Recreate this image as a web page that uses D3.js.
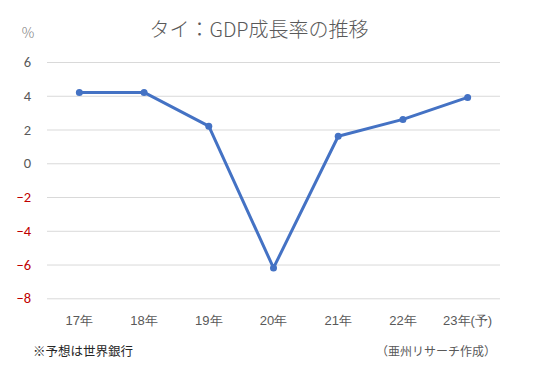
<!DOCTYPE html>
<html><head><meta charset="utf-8">
<script src="https://cdn.jsdelivr.net/npm/d3@7"></script>
<style>body{margin:0;background:#fff;}svg{display:block;font-family:"Noto Sans CJK JP","Noto Sans",sans-serif;}</style>
</head><body><svg id="c" width="544" height="367"></svg>
<script>
const categories = ["17年","18年","19年","20年","21年","22年","23年(予)"];
const growth = [4.2, 4.2, 2.2, -6.2, 1.6, 2.6, 3.9];
const yTicks = [6,4,2,0,-2,-4,-6,-8];
const titleText = "タイ：GDP成長率の推移";
const unitText = "%";
const noteLeft = "※予想は世界銀行";
const noteRight = "（亜州リサーチ作成）";

const svg = d3.select("#c");
const x = d3.scaleBand().domain(categories).range([47, 500]);
const y = d3.scaleLinear().domain([-8, 6]).range([298.3, 62]);

svg.append("text").attr("x", 259).attr("y", 37).attr("text-anchor","middle")
  .attr("fill","#595959").attr("font-size", 20).attr("font-weight", 300).text(titleText);
svg.append("text").attr("x", 28).attr("y", 38).attr("text-anchor","middle")
  .attr("fill","#7f7f7f").attr("font-size", 14).attr("font-weight", 300).text(unitText);

const yAxis = svg.append("g").attr("transform","translate(47,0)")
  .call(d3.axisLeft(y).tickValues(yTicks).tickSize(-453).tickFormat(d3.format("d")));
yAxis.select(".domain").remove();
yAxis.selectAll(".tick line").attr("stroke","#d9d9d9").attr("stroke-width",1);
yAxis.selectAll(".tick text").attr("x", -16).attr("font-size", 14.5)
  .attr("font-family","Calibri,'Liberation Sans','Noto Sans',sans-serif")
  .attr("fill", d => d < 0 ? "#c00000" : "#595959");

const xAxis = svg.append("g").attr("transform","translate(0,298)")
  .call(d3.axisBottom(x).tickSize(0));
xAxis.select(".domain").remove();
xAxis.selectAll(".tick text").attr("dy", 0).attr("y", 27).attr("font-size", 13)
  .attr("fill","#595959");

const line = d3.line().x((d,i)=>x(categories[i]) + x.bandwidth()/2).y(d=>y(d));
svg.append("path").datum(growth).attr("d", line).attr("fill","none")
  .attr("stroke","#4472c4").attr("stroke-width",3).attr("stroke-linejoin","round");
svg.selectAll("circle.pt").data(growth).join("circle").attr("class","pt")
  .attr("cx",(d,i)=>x(categories[i]) + x.bandwidth()/2).attr("cy", d=>y(d))
  .attr("r", 3.5).attr("fill","#4472c4");

svg.append("text").attr("x", 33).attr("y", 356).attr("font-size", 12.5)
  .attr("fill","#262626").text(noteLeft);
svg.append("text").attr("x", 496).attr("y", 356).attr("text-anchor","end").attr("font-size", 12)
  .attr("fill","#595959").text(noteRight);
</script></body></html>
